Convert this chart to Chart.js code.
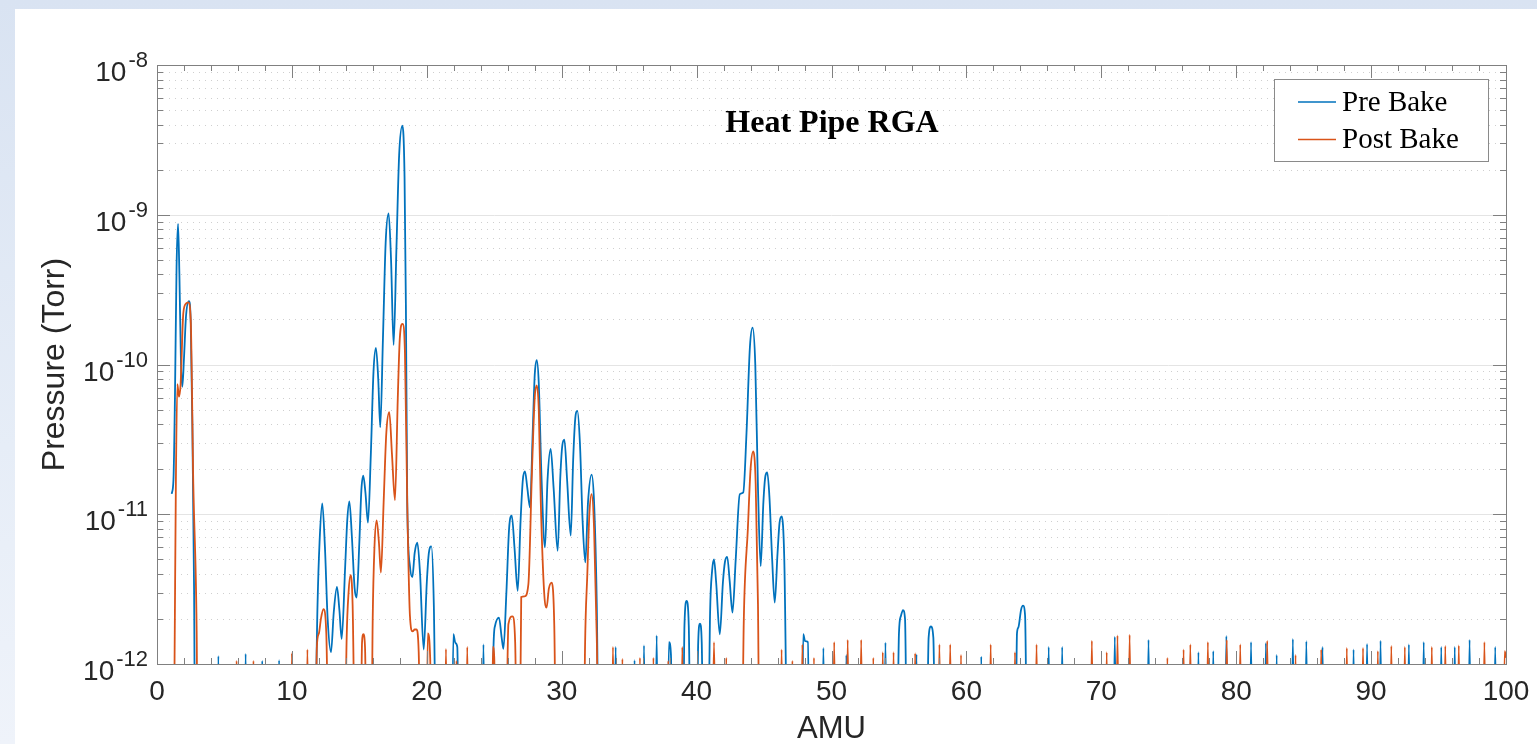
<!DOCTYPE html>
<html>
<head>
<meta charset="utf-8">
<title>Heat Pipe RGA</title>
<script src="https://cdn.jsdelivr.net/npm/chart.js@4.4.1/dist/chart.umd.min.js"></script>
<style>
  html, body { margin: 0; padding: 0; width: 1537px; height: 744px; overflow: hidden; }
  body { background: linear-gradient(180deg, #d9e3f2 0%, #e6edf7 60%, #eff3fa 100%); position: relative; }
  #panel { position: absolute; left: 15px; top: 9px; right: 0; bottom: 0; background: #fff; }
  #grafico { position: absolute; left: 0; top: 0; }
</style>
</head>
<body>
<div id="panel"></div>
<canvas id="grafico" width="1537" height="744"></canvas>
<script>
// valor por debajo del eje (se recorta)
const LOW = 1e-13;

// Pre Bake [AMU, Torr]
const preBakeRGA = [
  [1.09,1.37e-11],[1.22,1.7e-11],[1.33,6e-11],[1.45,4.5e-10],[1.56,8.7e-10],[1.66,4e-10],[1.78,1e-10],[1.88,7.1e-11],
  [2.0,1.1e-10],[2.15,2.1e-10],[2.37,2.65e-10],[2.5,1.9e-10],[2.62,4e-11],[2.75,3e-12],[2.85,LOW],
  [4.4,LOW],[4.55,1.13e-12],[4.7,LOW],
  [6.42,LOW],[6.57,1.17e-12],[6.72,LOW],
  [7.65,LOW],[7.8,1.05e-12],[7.95,LOW],
  [8.9,LOW],[9.05,1.06e-12],[9.2,LOW],
  [11.6,LOW],[11.9,2.5e-12],[12.05,6.5e-12],[12.25,1.18e-11],[12.45,6e-12],[12.65,2e-12],[12.9,1.2e-12],
  [13.1,2.2e-12],[13.34,3.27e-12],[13.52,2.3e-12],[13.69,1.47e-12],[13.95,4.5e-12],[14.1,9e-12],[14.26,1.22e-11],
  [14.45,7e-12],[14.65,3.2e-12],[14.8,2.78e-12],[15.0,6.5e-12],[15.15,1.45e-11],[15.29,1.81e-11],[15.45,1.4e-11],
  [15.64,8.8e-12],[15.85,2.5e-11],[16.05,9e-11],[16.23,1.29e-10],[16.4,8e-11],[16.55,3.8e-11],[16.75,1.5e-10],
  [16.95,6.5e-10],[17.17,1.02e-9],[17.35,5e-10],[17.54,1.35e-10],[17.75,6e-10],[17.95,2.5e-9],[18.19,3.93e-9],
  [18.35,1.8e-9],[18.45,2.5e-10],[18.55,1.2e-11],[18.75,4.5e-12],[18.93,3.8e-12],[19.1,5.5e-12],[19.3,6.45e-12],
  [19.5,4e-12],[19.77,1.25e-12],[20.0,3.5e-12],[20.15,5.5e-12],[20.34,6.1e-12],[20.52,2.5e-12],[20.75,LOW],
  [21.82,LOW],[21.97,1.58e-12],[22.12,1.38e-12],[22.26,1.3e-12],[22.42,LOW],
  [24.05,LOW],[24.2,1.35e-12],[24.35,LOW],
  [24.85,LOW],[24.94,1.25e-12],[25.06,1.8e-12],[25.35,2.04e-12],[25.55,1.5e-12],[25.68,1.26e-12],[25.9,3e-12],
  [26.1,8e-12],[26.3,9.8e-12],[26.5,6e-12],[26.74,3.08e-12],[26.95,9e-12],[27.12,1.7e-11],[27.28,1.93e-11],
  [27.45,1.5e-11],[27.65,1.11e-11],[27.85,3.5e-11],[28.0,8.5e-11],[28.15,1.07e-10],[28.3,7.5e-11],[28.5,1.8e-11],
  [28.76,6e-12],[28.95,1.7e-11],[29.18,2.73e-11],[29.4,1.5e-11],[29.7,5.7e-12],[29.9,1.8e-11],[30.05,2.9e-11],
  [30.2,3.15e-11],[30.4,1.7e-11],[30.67,7.2e-12],[30.85,2.3e-11],[31.0,4.3e-11],[31.16,4.9e-11],[31.35,3e-11],
  [31.55,9e-12],[31.75,4.77e-12],[31.95,1.2e-11],[32.22,1.84e-11],[32.4,1.2e-11],[32.6,2.5e-12],[32.8,LOW],
  [33.85,LOW],[34.0,1.3e-12],[34.15,LOW],
  [35.25,LOW],[35.4,1.06e-12],[35.55,LOW],
  [35.95,LOW],[36.1,1.33e-12],[36.25,LOW],
  [36.9,LOW],[37.04,1.55e-12],[37.18,LOW],
  [37.8,LOW],[37.95,1.4e-12],[38.1,1.15e-12],[38.22,LOW],
  [38.95,LOW],[39.1,1.8e-12],[39.26,2.64e-12],[39.42,1.8e-12],[39.6,LOW],
  [39.95,LOW],[40.12,1.4e-12],[40.25,1.86e-12],[40.38,1.4e-12],[40.55,LOW],
  [40.8,LOW],[41.0,2.2e-12],[41.15,4.2e-12],[41.29,5e-12],[41.45,3.5e-12],[41.72,1.58e-12],[41.95,3.5e-12],
  [42.1,4.8e-12],[42.27,5.2e-12],[42.45,3.6e-12],[42.66,2.2e-12],[42.9,5e-12],[43.2,1.36e-11],[43.46,1.4e-11],
  [43.7,3.5e-11],[43.95,1.3e-10],[44.15,1.76e-10],[44.35,1e-10],[44.55,1.5e-11],[44.75,4.5e-12],[44.95,1.2e-11],
  [45.1,1.8e-11],[45.24,1.9e-11],[45.4,1.3e-11],[45.6,5e-12],[45.79,2.57e-12],[46.0,5.5e-12],[46.15,8.8e-12],
  [46.31,9.67e-12],[46.5,5e-12],[46.8,LOW],
  [47.8,LOW],[47.9,1.58e-12],[48.05,1.42e-12],[48.25,1.4e-12],[48.4,LOW],
  [49.25,LOW],[49.4,1.28e-12],[49.55,LOW],
  [50.95,LOW],[51.1,1.15e-12],[51.25,LOW],
  [53.85,LOW],[54.0,1.39e-12],[54.15,LOW],
  [54.8,LOW],[55.0,1.6e-12],[55.15,2.1e-12],[55.3,2.29e-12],[55.45,2.0e-12],[55.65,LOW],
  [56.15,LOW],[56.3,1.16e-12],[56.45,LOW],
  [57.0,LOW],[57.2,1.5e-12],[57.37,1.78e-12],[57.55,1.5e-12],[57.75,LOW],
  [61.0,LOW],[61.1,1.12e-12],[61.25,LOW],
  [63.6,LOW],[63.75,1.6e-12],[63.85,1.75e-12],[64.05,2.3e-12],[64.2,2.45e-12],[64.35,2.1e-12],[64.55,LOW],
  [65.95,LOW],[66.1,1.3e-12],[66.25,LOW],
  [66.95,LOW],[67.1,1.3e-12],[67.25,LOW],
  [70.85,LOW],[71.0,1.52e-12],[71.15,LOW],
  [73.35,LOW],[73.5,1.45e-12],[73.65,LOW],
  [77.05,LOW],[77.2,1.2e-12],[77.35,LOW],
  [78.15,LOW],[78.3,1.22e-12],[78.45,LOW],
  [79.12,LOW],[79.27,1.54e-12],[79.42,LOW],
  [80.95,LOW],[81.1,1.4e-12],[81.25,LOW],
  [82.05,LOW],[82.2,1.38e-12],[82.35,LOW],
  [82.85,LOW],[83.0,1.15e-12],[83.15,LOW],
  [84.05,LOW],[84.2,1.47e-12],[84.35,LOW],
  [85.05,LOW],[85.2,1.42e-12],[85.35,LOW],
  [86.25,LOW],[86.4,1.3e-12],[86.55,LOW],
  [88.55,LOW],[88.7,1.25e-12],[88.85,LOW],
  [89.55,LOW],[89.7,1.36e-12],[89.85,LOW],
  [90.55,LOW],[90.7,1.43e-12],[90.85,LOW],
  [92.65,LOW],[92.8,1.35e-12],[92.95,LOW],
  [93.75,LOW],[93.9,1.4e-12],[94.05,LOW],
  [95.05,LOW],[95.2,1.3e-12],[95.35,LOW],
  [96.05,LOW],[96.2,1.3e-12],[96.35,LOW],
  [97.15,LOW],[97.3,1.45e-12],[97.45,LOW],
  [99.05,LOW],[99.2,1.3e-12],[99.35,LOW]
];

// Post Bake [AMU, Torr]
const postBakeRGA = [
  [1.2,LOW],[1.3,1e-12],[1.4,1.65e-11],[1.51,7.4e-11],[1.63,6.1e-11],[1.75,7.4e-11],[1.95,2.2e-10],[2.15,2.55e-10],
  [2.32,2.6e-10],[2.5,2.0e-10],[2.69,1.6e-11],[2.94,1.66e-12],[3.05,LOW],
  [5.75,LOW],[5.9,1.05e-12],[6.05,LOW],
  [7.0,LOW],[7.15,1.05e-12],[7.3,LOW],
  [9.85,LOW],[10.0,1.18e-12],[10.15,LOW],
  [11.0,LOW],[11.15,1.25e-12],[11.3,LOW],
  [11.7,LOW],[11.85,1.3e-12],[12.0,1.6e-12],[12.15,2e-12],[12.34,2.32e-12],[12.55,1.6e-12],[12.8,LOW],
  [13.85,LOW],[14.06,1.5e-12],[14.2,3e-12],[14.35,3.92e-12],[14.5,2.5e-12],[14.75,LOW],
  [15.05,LOW],[15.2,1.4e-12],[15.3,1.58e-12],[15.42,1.3e-12],[15.6,LOW],
  [15.85,LOW],[15.99,2e-12],[16.12,6e-12],[16.28,9.1e-12],[16.45,6.5e-12],[16.6,4.08e-12],[16.8,1.2e-11],
  [17.0,3.5e-11],[17.22,4.8e-11],[17.42,2.5e-11],[17.64,1.24e-11],[17.85,6e-11],[18.0,1.5e-10],[18.2,1.87e-10],
  [18.38,1.2e-10],[18.55,1.2e-11],[18.75,2.1e-12],[18.95,1.65e-12],[19.1,1.7e-12],[19.23,1.7e-12],[19.4,1.2e-12],[19.6,LOW],
  [19.95,LOW],[20.07,1.6e-12],[20.25,1.1e-12],[20.4,LOW],
  [21.27,LOW],[21.42,1.26e-12],[21.57,LOW],
  [22.05,LOW],[22.2,1.05e-12],[22.35,LOW],
  [22.85,LOW],[23.0,1.3e-12],[23.15,LOW],
  [24.75,LOW],[24.9,1.3e-12],[25.0,1.1e-12],[25.15,LOW],
  [25.8,LOW],[26.05,1.85e-12],[26.35,2.08e-12],[26.55,1.4e-12],[26.74,LOW],
  [26.85,LOW],[27.0,2.8e-12],[27.25,2.83e-12],[27.53,3.41e-12],[27.8,2e-11],[28.0,6e-11],[28.15,7.25e-11],
  [28.3,5e-11],[28.45,1.2e-11],[28.7,3e-12],[28.88,2.38e-12],[29.05,3.2e-12],[29.26,3.5e-12],[29.45,1.8e-12],[29.64,LOW],
  [31.6,LOW],[31.73,1.3e-12],[31.9,4e-12],[32.05,1e-11],[32.22,1.36e-11],[32.4,8e-12],[32.6,1.5e-12],[32.8,LOW],
  [33.65,LOW],[33.8,1.3e-12],[33.95,LOW],
  [34.35,LOW],[34.5,1.08e-12],[34.65,LOW],
  [35.65,LOW],[35.8,1.1e-12],[35.95,LOW],
  [36.65,LOW],[36.8,1.1e-12],[36.95,LOW],
  [37.75,LOW],[37.9,1.05e-12],[38.05,LOW],
  [38.8,LOW],[38.94,1.3e-12],[39.08,LOW],
  [41.1,LOW],[41.29,1.4e-12],[41.48,LOW],
  [42.05,LOW],[42.2,1.1e-12],[42.35,LOW],
  [43.3,LOW],[43.5,2e-12],[43.8,8e-12],[44.0,2e-11],[44.2,2.63e-11],[44.38,1.6e-11],[44.55,2.5e-12],[44.7,LOW],
  [46.15,LOW],[46.3,1.25e-12],[46.45,LOW],
  [46.95,LOW],[47.1,1.05e-12],[47.25,LOW],
  [47.7,LOW],[47.84,1.35e-12],[47.98,LOW],
  [48.55,LOW],[48.7,1.1e-12],[48.85,LOW],
  [50.05,LOW],[50.2,1.4e-12],[50.35,LOW],
  [51.05,LOW],[51.2,1.45e-12],[51.35,LOW],
  [52.05,LOW],[52.2,1.45e-12],[52.35,LOW],
  [52.95,LOW],[53.1,1.1e-12],[53.25,LOW],
  [53.65,LOW],[53.8,1.2e-12],[53.95,LOW],
  [54.45,LOW],[54.6,1.2e-12],[54.75,LOW],
  [56.05,LOW],[56.2,1.18e-12],[56.35,LOW],
  [57.85,LOW],[58.0,1.35e-12],[58.15,LOW],
  [58.65,LOW],[58.8,1.35e-12],[58.95,LOW],
  [59.45,LOW],[59.6,1.15e-12],[59.75,LOW],
  [61.65,LOW],[61.8,1.35e-12],[61.95,LOW],
  [63.45,LOW],[63.6,1.2e-12],[63.75,LOW],
  [65.05,LOW],[65.2,1.35e-12],[65.35,LOW],
  [69.15,LOW],[69.3,1.43e-12],[69.45,LOW],
  [70.25,LOW],[70.4,1.2e-12],[70.55,LOW],
  [71.05,LOW],[71.2,1.55e-12],[71.35,LOW],
  [71.95,LOW],[72.1,1.57e-12],[72.25,LOW],
  [74.75,LOW],[74.9,1.1e-12],[75.05,LOW],
  [75.95,LOW],[76.1,1.25e-12],[76.25,LOW],
  [76.45,LOW],[76.6,1.35e-12],[76.75,LOW],
  [77.75,LOW],[77.9,1.4e-12],[78.05,LOW],
  [79.15,LOW],[79.3,1.45e-12],[79.45,LOW],
  [80.15,LOW],[80.3,1.35e-12],[80.45,LOW],
  [82.15,LOW],[82.3,1.43e-12],[82.45,LOW],
  [84.25,LOW],[84.4,1.15e-12],[84.55,LOW],
  [86.15,LOW],[86.3,1.25e-12],[86.45,LOW],
  [88.05,LOW],[88.2,1.28e-12],[88.35,LOW],
  [89.25,LOW],[89.4,1.28e-12],[89.55,LOW],
  [90.35,LOW],[90.5,1.22e-12],[90.65,LOW],
  [91.35,LOW],[91.5,1.32e-12],[91.65,LOW],
  [92.35,LOW],[92.5,1.3e-12],[92.65,LOW],
  [94.35,LOW],[94.5,1.3e-12],[94.65,LOW],
  [95.35,LOW],[95.5,1.32e-12],[95.65,LOW],
  [96.35,LOW],[96.5,1.33e-12],[96.65,LOW],
  [98.25,LOW],[98.4,1.4e-12],[98.55,LOW],
  [99.75,LOW],[99.9,1.22e-12],[100,1.1e-12]
];

// ejes
const amuLabels = [0, 10, 20, 30, 40, 50, 60, 70, 80, 90, 100];
const amuMinorStep = 2;
const torrExponents = [-12, -11, -10, -9, -8];
const torrMinor = [2, 3, 4, 5, 6, 7, 8, 9];

const titulo = 'Heat Pipe RGA';
const tituloX = 'AMU';
const tituloY = 'Pressure (Torr)';

const azul = '#0072BD';
const naranja = '#D95319';
const sans = '"Liberation Sans", Arial, Helvetica, sans-serif';
const serif = '"Liberation Serif", "Times New Roman", serif';

const amuTicks = [];
for (let v = amuLabels[0]; v <= amuLabels[amuLabels.length - 1]; v += amuMinorStep) amuTicks.push(v);

const torrTicks = [];
torrExponents.forEach((e, i) => {
	torrTicks.push(Math.pow(10, e));
	if (i < torrExponents.length - 1) torrMinor.forEach(m => torrTicks.push(m * Math.pow(10, e)));
});

const esDecada = v => Math.abs(Math.log10(v) - Math.round(Math.log10(v))) < 1e-9;

//Grilla, marco, textos y leyenda
const marcoMatlab = {
	id: 'marcoMatlab',
	beforeDatasetsDraw(chart) {
		const { ctx, chartArea: a, scales: { y } } = chart;
		ctx.save();
		ctx.lineWidth = 1;
		y.ticks.forEach(t => {
			const py = Math.round(y.getPixelForValue(t.value)) + 0.5;
			if (esDecada(t.value)) {
				ctx.strokeStyle = '#e4e4e4';
				ctx.setLineDash([]);
			} else {
				ctx.strokeStyle = '#cfcfcf';
				ctx.setLineDash([1, 5]);
			}
			ctx.beginPath();
			ctx.moveTo(a.left, py);
			ctx.lineTo(a.right, py);
			ctx.stroke();
		});
		ctx.restore();
	},
	afterDatasetsDraw(chart) {
		const { ctx, chartArea: a, scales: { x, y } } = chart;
		ctx.save();
		ctx.setLineDash([]);
		ctx.lineWidth = 1;
		ctx.strokeStyle = '#808080';

		// marco
		ctx.strokeRect(Math.round(a.left) + 0.5, Math.round(a.top) + 0.5, Math.round(a.right - a.left), Math.round(a.bottom - a.top));

		// ticks hacia adentro
		ctx.beginPath();
		x.ticks.forEach(t => {
			const px = Math.round(x.getPixelForValue(t.value)) + 0.5;
			const len = amuLabels.includes(t.value) ? 13 : 6;
			ctx.moveTo(px, a.bottom); ctx.lineTo(px, a.bottom - len);
			ctx.moveTo(px, a.top); ctx.lineTo(px, a.top + len);
		});
		y.ticks.forEach(t => {
			const py = Math.round(y.getPixelForValue(t.value)) + 0.5;
			const len = esDecada(t.value) ? 13 : 6;
			ctx.moveTo(a.left, py); ctx.lineTo(a.left + len, py);
			ctx.moveTo(a.right, py); ctx.lineTo(a.right - len, py);
		});
		ctx.stroke();

		// etiquetas 10^n
		ctx.fillStyle = '#262626';
		ctx.textAlign = 'right';
		ctx.textBaseline = 'alphabetic';
		torrExponents.forEach(e => {
			const py = y.getPixelForValue(Math.pow(10, e));
			const sup = String(e);
			ctx.font = '22px ' + sans;
			const wSup = ctx.measureText(sup).width;
			ctx.fillText(sup, 148, py + 2);
			ctx.font = '28px ' + sans;
			ctx.fillText('10', 148 - wSup - 2, py + 16);
		});

		// titulos de ejes
		ctx.textAlign = 'center';
		ctx.textBaseline = 'middle';
		ctx.font = '31px ' + sans;
		ctx.fillText(tituloX, (a.left + a.right) / 2, 729);
		ctx.save();
		ctx.translate(55, (a.top + a.bottom) / 2);
		ctx.rotate(-Math.PI / 2);
		ctx.font = '32px ' + sans;
		ctx.fillText(tituloY, 0, 0);
		ctx.restore();

		// titulo dentro del grafico
		ctx.fillStyle = '#000';
		ctx.font = 'bold 32px ' + serif;
		ctx.fillText(titulo, 832, 124);

		// leyenda
		const lx = 1274, ly = 79, lw = 214, lh = 82;
		ctx.fillStyle = '#fff';
		ctx.fillRect(lx, ly, lw, lh);
		ctx.strokeStyle = '#8a8a8a';
		ctx.strokeRect(lx + 0.5, ly + 0.5, lw, lh);
		ctx.textAlign = 'left';
		ctx.font = '29px ' + serif;
		chart.data.datasets.forEach((ds, i) => {
			const yy = 102 + i * 37.5;
			ctx.strokeStyle = ds.borderColor;
			ctx.lineWidth = 1.5;
			ctx.beginPath();
			ctx.moveTo(1298, yy);
			ctx.lineTo(1336, yy);
			ctx.stroke();
			ctx.fillStyle = '#000';
			ctx.fillText(ds.label, 1342, yy + 1);
		});
		ctx.restore();
	}
};

new Chart(document.getElementById('grafico'), {
	type: 'line',
	data: {
		datasets: [
			{
				label: 'Pre Bake',
				data: preBakeRGA.map(p => ({ x: p[0], y: p[1] })),
				borderColor: azul,
				borderWidth: 1.8,
				pointRadius: 0,
				cubicInterpolationMode: 'monotone',
				order: 1
			},
			{
				label: 'Post Bake',
				data: postBakeRGA.map(p => ({ x: p[0], y: p[1] })),
				borderColor: naranja,
				borderWidth: 1.8,
				pointRadius: 0,
				cubicInterpolationMode: 'monotone',
				order: 0
			}
		]
	},
	options: {
		responsive: false,
		animation: false,
		devicePixelRatio: 1,
		layout: { padding: { top: 65, right: 31, left: 0, bottom: 0 } },
		plugins: {
			legend: { display: false },
			tooltip: { enabled: false }
		},
		scales: {
			x: {
				type: 'linear',
				min: 0,
				max: 100,
				afterBuildTicks: s => { s.ticks = amuTicks.map(v => ({ value: v })); },
				afterFit: s => { s.height = 80; s.paddingLeft = 0; s.paddingRight = 0; },
				grid: { display: false, drawTicks: false },
				border: { display: false },
				ticks: {
					autoSkip: false,
					maxRotation: 0,
					padding: 11,
					color: '#262626',
					font: { family: sans, size: 28 },
					callback: v => amuLabels.includes(v) ? String(v) : ''
				}
			},
			y: {
				type: 'logarithmic',
				min: 1e-12,
				max: 1e-8,
				afterBuildTicks: s => { s.ticks = torrTicks.map(v => ({ value: v })); },
				afterFit: s => { s.width = 157; s.paddingTop = 0; s.paddingBottom = 0; },
				grid: { display: false, drawTicks: false },
				border: { display: false },
				ticks: { display: false }
			}
		}
	},
	plugins: [marcoMatlab]
});
</script>
</body>
</html>
